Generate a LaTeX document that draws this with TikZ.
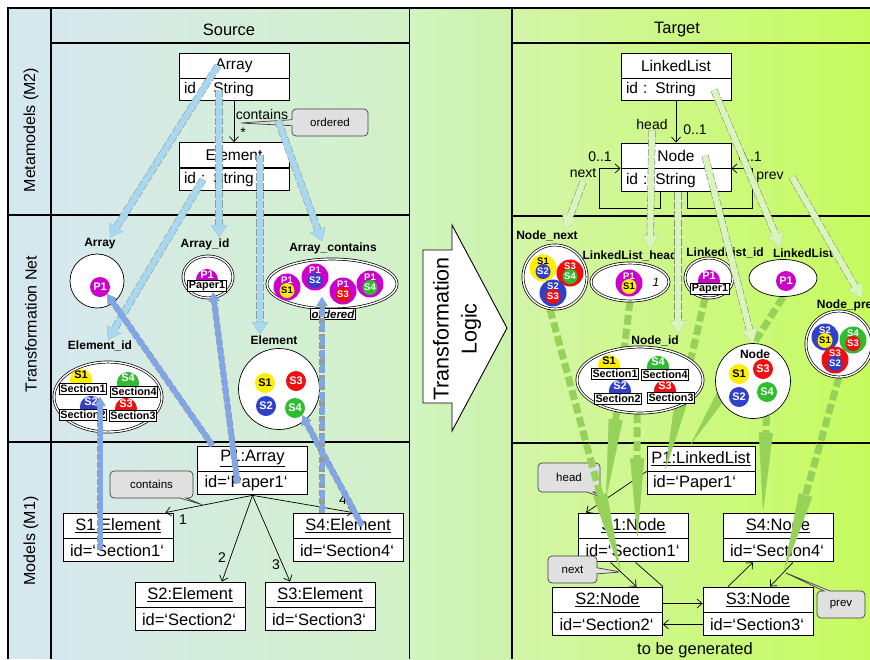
\documentclass[tikz,border=0pt]{standalone}
\usepackage{fontspec}
\setmainfont{Liberation Sans}
\usepackage{tikz}
\usetikzlibrary{arrows.meta,positioning,shapes.geometric,shapes.callouts}

\definecolor{tmag}{HTML}{CC00CC}
\definecolor{tyel}{HTML}{FFEE00}
\definecolor{tblu}{HTML}{3040C8}
\definecolor{tred}{HTML}{EE1010}
\definecolor{tgrn}{HTML}{30BB30}
\definecolor{rowcol}{HTML}{D4E8EE}
\definecolor{srcL}{HTML}{D6E8EF}
\definecolor{srcR}{HTML}{D2F2C6}
\definecolor{midL}{HTML}{D2F4C2}
\definecolor{midR}{HTML}{CCF2A8}
\definecolor{tgtL}{HTML}{D3F5A8}
\definecolor{tgtR}{HTML}{C6FB5E}
\definecolor{lblue}{HTML}{A8D8F0}
\definecolor{dblue}{HTML}{7EA6E8}
\definecolor{lgreen}{HTML}{DAF5BC}
\definecolor{dgreen}{HTML}{96D25A}

% token with a smaller token inside
\newcommand{\nestok}[6]{%
  \node[#3, minimum size=27pt] (#1) at #2 {};
  \node[#3, fill=none, minimum size=0pt, font=\fontsize{9.5}{10}\selectfont\bfseries] at ([yshift=-6.5pt]#1.north) {#4};
  \node[#5, minimum size=15pt, font=\fontsize{9.5}{10}\selectfont\bfseries] at ([yshift=-3.5pt]#1.center) {#6};}

\begin{document}
\begin{tikzpicture}[x=1pt, y=-1pt,
    grid/.style = {line width=1.3pt},
    hdr/.style = {font=\fontsize{16.5}{18}\selectfont},
    rowlbl/.style = {rotate=90, font=\fontsize{16}{18}\selectfont},
    cname/.style = {draw, fill=white, line width=0.9pt, minimum width=110pt, minimum height=25pt, inner sep=0pt, font=\fontsize{15.5}{17}\selectfont},
    cattr/.style = {cname, minimum height=22pt, text width=100pt, align=left},
    oname/.style = {cname, font=\fontsize{16.5}{18}\selectfont},
    oattr/.style = {oname, minimum height=23pt, text width=96pt, align=left},
    plabel/.style = {font=\fontsize{12}{13}\selectfont\bfseries, inner sep=1pt},
    place/.style = {draw, circle, fill=white, line width=0.7pt, inner sep=0pt},
    dplace/.style = {place, double, double distance=1.4pt},
    secbox/.style = {draw, fill=white, line width=0.9pt, inner sep=1.1pt, font=\fontsize{10.8}{12}\selectfont\bfseries},
    tok/.style = {circle, inner sep=0pt, minimum size=20pt, font=\fontsize{11}{12}\selectfont\bfseries, text=white},
    p1/.style = {tok, fill=tmag},
    s1/.style = {tok, fill=tyel, text=black},
    s2/.style = {tok, fill=tblu},
    s3/.style = {tok, fill=tred},
    s4/.style = {tok, fill=tgrn},
    lbl/.style = {font=\fontsize{14}{15}\selectfont, inner sep=1pt},
    note/.style = {rectangle callout, rounded corners=4pt, draw=black!75, fill=black!12, line width=0.7pt, callout pointer width=6pt, font=\fontsize{11.5}{12}\selectfont},
    link/.style = {line width=0.7pt, -{Straight Barb[length=5pt,width=9pt]}},
    lbarrow/.style = {line width=6pt, draw=lblue, preaction={draw=black!40, line width=7.2pt, dotted}, -{Triangle[length=12pt,width=16pt,line width=0.4pt]}},
    dbarrow/.style = {line width=5pt, draw=dblue, preaction={draw=black!40, line width=6.2pt, dotted}, -{Triangle[length=9pt,width=11pt,line width=0.4pt]}},
    lgarrow/.style = {line width=6pt, draw=lgreen, preaction={draw=black!45, line width=7.2pt, dotted}, -{Triangle[length=14pt,width=16pt,line width=0.4pt]}},
    gen/.style = {line width=7pt, draw=dgreen, dash pattern=on 10pt off 4pt, -{Triangle[length=80pt,width=14pt,line width=0.4pt]}}
    ]
\useasboundingbox (0,0) rectangle (870,659);

% background and table
\fill[white] (0,0) rectangle (870,659);
\fill[rowcol] (8,8) rectangle (51,659);
\shade[left color=srcL, right color=srcR] (51,8) rectangle (409.5,659);
\shade[left color=midL, right color=midR] (409.5,8) rectangle (512,659);
\shade[left color=tgtL, right color=tgtR] (512,8) rectangle (870,659);
\draw[grid] (870,8) -- (8,8) -- (8,659);
\draw[grid] (51,8) -- (51,659) (409.5,8) -- (409.5,659) (512,8) -- (512,659);
\draw[grid] (51,43) -- (409.5,43) (512,43) -- (870,43);
\draw[grid] (8,215) -- (409.5,215) (512,216) -- (870,216);
\draw[grid] (8,442) -- (409.5,442) (512,443) -- (870,443);

\node[hdr] (src) at (229,30) {Source};
\node[hdr] (tgt) at (677,30) {Target};
\node[rowlbl] (rM2) at (31,130) {Metamodels (M2)};
\node[rowlbl] (rNet) at (31,324) {Transformation Net};
\node[rowlbl] (rM1) at (31,541) {Models (M1)};

\draw[fill=white, line width=0.9pt] (423,250) -- (452,250) -- (452,225) -- (507,328) -- (452,431) -- (452,403) -- (423,403) -- cycle;
\node[rotate=90, align=center, font=\fontsize{21.5}{28}\selectfont] (logic) at (457,329) {Transformation\\Logic};

% source metamodel
\node[cname] (arr) at (234,65.5) {Array};
\node[cattr, below=0pt of arr] (arrid) {id : String};
\node[cname] (elem) at (234,155) {Element};
\node[cattr, below=0pt of elem] (elemid) {id : String};
\draw[link] (arrid.south) -- (elem.north);
\node[lbl] (cnt) at (262,114) {contains};
\node[lbl] (star) at (243,133) {*};
\coordinate (ordp) at (240,123);
\node[note, minimum width=76pt, minimum height=27pt, callout absolute pointer={(ordp)}] (ord) at (330,122.5) {ordered};

% target metamodel
\node[cname] (ll) at (676,65.5) {LinkedList};
\node[cattr, below=0pt of ll] (llid) {id : String};
\node[cname] (nd) at (676,155.5) {Node};
\node[cattr, below=0pt of nd, minimum height=23pt] (ndid) {id : String};
\draw[link] (llid.south) -- (nd.north);
\node[lbl] (headL) at (652,124) {head};
\node[lbl] (hmul) at (695,130) {0..1};
\coordinate (nxl) at (599,208);
\coordinate (pvl) at (752,208);
\draw[link] ([xshift=-16pt]ndid.south) |- (nxl) |- (ndid.north west);
\draw[link] ([xshift=11pt]ndid.south) |- (pvl) |- (ndid.north east);
\node[lbl] (nmul) at (600,157) {0..1};
\node[lbl] (nextL) at (583,173) {next};
\node[lbl] (pmul) at (750,157) {0..1};
\node[lbl] (prevL) at (770,177) {prev};

% source model
\node[oname] (p1) at (252.5,458.5) {\underline{P1:Array}};
\node[oattr, below=0pt of p1] (p1id) {id=‘Paper1‘};
\node[oname] (s1e) at (118,525.5) {\underline{S1:Element}};
\node[oattr, below=0pt of s1e] (s1eid) {id=‘Section1‘};
\node[oname] (s4e) at (348,525.5) {\underline{S4:Element}};
\node[oattr, below=0pt of s4e] (s4eid) {id=‘Section4‘};
\node[oname] (s2e) at (190,594.5) {\underline{S2:Element}};
\node[oattr, below=0pt of s2e] (s2eid) {id=‘Section2‘};
\node[oname] (s3e) at (320,594.5) {\underline{S3:Element}};
\node[oattr, below=0pt of s3e] (s3eid) {id=‘Section3‘};
\draw[link] (p1id.south) -- ([xshift=-8pt]s1e.north east);
\draw[link] (p1id.south) -- ([xshift=32pt]s2e.north);
\draw[link] (p1id.south) -- ([xshift=-30pt]s3e.north);
\draw[link] (p1id.south) -- ([xshift=5pt]s4e.north);
\node[lbl] (n1) at (183,520) {1};
\node[lbl] (n2) at (222,558) {2};
\node[lbl] (n3) at (276,565) {3};
\node[lbl] (n4) at (343,500) {4};
\coordinate (cntp) at (203,505);
\node[note, minimum width=83pt, minimum height=27pt, callout absolute pointer={(cntp)}] (cnote) at (151.5,484.5) {contains};

% target model
\node[oname, minimum width=108pt] (pll) at (701,458.5) {\underline{P1:LinkedList}};
\node[oattr, below=0pt of pll, minimum width=108pt] (pllid) {id=‘Paper1‘};
\node[oname] (s1n) at (633.5,525.5) {\underline{S1:Node}};
\node[oattr, below=0pt of s1n] (s1nid) {id=‘Section1‘};
\node[oname] (s4n) at (778,525.5) {\underline{S4:Node}};
\node[oattr, below=0pt of s4n] (s4nid) {id=‘Section4‘};
\node[oname] (s2n) at (607.5,599.5) {\underline{S2:Node}};
\node[oattr, below=0pt of s2n] (s2nid) {id=‘Section2‘};
\node[oname] (s3n) at (758,599.5) {\underline{S3:Node}};
\node[oattr, below=0pt of s3n] (s3nid) {id=‘Section3‘};
\draw[link] (pll.south west) -- ([xshift=8pt]s1n.north west) coordinate[pos=0.67] (hdm);
\draw[link] ([xshift=-23pt]s1nid.south) -- ([xshift=29pt]s2n.north) coordinate[pos=0.4] (nxm);
\draw[line width=0.7pt] ([xshift=2pt]s1nid.south) -- (s2n.north east);
\draw[link] ([yshift=-4pt]s2n.east) -- ([yshift=-4pt]s3n.west);
\draw[link] (s3nid.west) -- (s2nid.east);
\draw[link] ([xshift=-30pt]s3n.north) -- ([xshift=-25pt]s4nid.south);
\draw[link] ([xshift=15pt]s4nid.south) -- ([xshift=12pt]s3n.north) coordinate[pos=0.4] (pvm);
\node[note, minimum width=62pt, minimum height=29pt, callout absolute pointer={(hdm)}] (hnote) at (569,477.5) {head};
\node[note, minimum width=49pt, minimum height=27pt, callout absolute pointer={(nxm)}] (nnote) at (572.5,569.5) {next};
\node[note, minimum width=48pt, minimum height=27pt, callout absolute pointer={(pvm)}] (pnote) at (841,604.5) {prev};
\node[hdr] (tbg) at (695,650) {to be generated};

% generated links (net to target model)
\draw[gen] ([xshift=-5pt]555,309) -- (nxm);
\draw[gen] (630,301) -- (hdm);
\draw[gen] (637,413) -- ([xshift=4pt]s1nid.north);
\draw[gen] (705,298) -- ([xshift=-36pt]pllid.north);
\draw[gen] (783,297) -- ([xshift=-11pt]pll.north);
\draw[gen] (767,402) -- ([xshift=-15pt]s4n.north);
\draw[gen] (839,377) -- (pvm);

% source net
\node[plabel] (plArrL) at (100,244) {Array};
\node[place, minimum size=54pt] (plArr) at (97,281) {};
\node[p1] (aP1) at (100,287) {P1};

\node[plabel] (plArrIdL) at (205,244) {Array\_id};
\node[dplace, ellipse, minimum width=50pt, minimum height=42pt] (plArrId) at (208,277) {};
\node[p1] (aiP1) at (207,280) {\raisebox{10pt}{P1}};
\node[secbox] (pap1) at (207,286) {Paper1};

\node[plabel] (plContL) at (333,248) {Array\_contains};
\node[dplace, ellipse, minimum width=130pt, minimum height=50pt] (plCont) at (332,284) {};
\nestok{ac1}{(287,287)}{p1}{P1}{s1}{S1}
\nestok{ac2}{(315,277)}{p1}{P1}{s2}{S2}
\nestok{ac3}{(343,291)}{p1}{P1}{s3}{S3}
\nestok{ac4}{(370,284)}{p1}{P1}{s4}{S4}
\node[secbox, font=\fontsize{11.5}{12}\selectfont\bfseries\itshape] (ordb) at (333,314) {ordered};

\node[plabel] (plElIdL) at (100,346) {Element\_id};
\node[dplace, ellipse, minimum width=108pt, minimum height=70pt] (plElId) at (108,397) {};
\node[s1] (eiS1) at (81,380) {\raisebox{10pt}{S1}};
\node[secbox] (sec1) at (83,389) {Section1};
\node[s4] (eiS4) at (128,383) {\raisebox{10pt}{S4}};
\node[secbox] (sec4) at (134,392) {Section4};
\node[s2] (eiS2) at (91,407) {\raisebox{10pt}{S2}};
\node[secbox] (sec2) at (83,415) {Section2};
\node[s3] (eiS3) at (126,409) {\raisebox{10pt}{S3}};
\node[secbox] (sec3) at (133,416) {Section3};

\node[plabel] (plElL) at (274,340) {Element};
\node[place, minimum size=81pt] (plEl) at (279,389) {};
\node[s1] (eS1) at (265,383) {S1};
\node[s3] (eS3) at (296,381) {S3};
\node[s2] (eS2) at (266,406) {S2};
\node[s4] (eS4) at (295,408) {S4};

% target net
\node[plabel] (plNextL) at (547,236) {Node\_next};
\node[dplace, minimum size=64pt] (plNext) at (555,277) {};
\nestok{nx1}{(543,268)}{s1}{S1}{s2}{S2}
\nestok{nx2}{(570,273)}{s3}{S3}{s4}{S4}
\nestok{nx3}{(553,293)}{s2}{S2}{s3}{S3}

\node[plabel] (plHeadL) at (630,256) {LinkedList\_head};
\node[dplace, ellipse, minimum width=78pt, minimum height=38pt] (plHead) at (630,282) {};
\nestok{hd1}{(629,283)}{p1}{P1}{s1}{S1}
\node[font=\fontsize{12}{13}\selectfont\itshape] (hdOne) at (656,282) {1};

\node[plabel] (plLLIdL) at (725,253) {LinkedList\_id};
\node[dplace, ellipse, minimum width=48pt, minimum height=40pt] (plLLId) at (709,278) {};
\node[p1] (liP1) at (709,281) {\raisebox{10pt}{P1}};
\node[secbox] (pap2) at (710,289) {Paper1};

\node[plabel] (plLLL) at (803,253) {LinkedList};
\node[place, ellipse, minimum width=68pt, minimum height=37pt] (plLL) at (783,278) {};
\node[p1] (llP1) at (786,281) {P1};

\node[plabel] (plPrevL) at (848,305) {Node\_prev};
\node[dplace, minimum size=66pt] (plPrev) at (839,344) {};
\nestok{pv1}{(825,337)}{s2}{S2}{s1}{S1}
\nestok{pv2}{(853,340)}{s4}{S4}{s3}{S3}
\nestok{pv3}{(835,360)}{s3}{S3}{s2}{S2}

\node[plabel] (plNidL) at (655,341) {Node\_id};
\node[dplace, ellipse, minimum width=126pt, minimum height=66pt] (plNid) at (640,380) {};
\node[s1] (niS1) at (609,366) {\raisebox{10pt}{S1}};
\node[secbox] (nsec1) at (615,374) {Section1};
\node[s4] (niS4) at (658,367) {\raisebox{10pt}{S4}};
\node[secbox] (nsec4) at (665,375) {Section4};
\node[s2] (niS2) at (620,391) {\raisebox{10pt}{S2}};
\node[secbox] (nsec2) at (618,399) {Section2};
\node[s3] (niS3) at (665,391) {\raisebox{10pt}{S3}};
\node[secbox] (nsec3) at (671,398) {Section3};

\node[place, minimum size=75pt] (plNode) at (753,381) {};
\node[plabel] (plNodeL) at (755,354) {Node};
\node[s1] (nS1) at (739,374) {S1};
\node[s3] (nS3) at (763,369) {S3};
\node[s2] (nS2) at (739,397) {S2};
\node[s4] (nS4) at (767,392) {S4};

% metamodel to net
\draw[lbarrow] ([xshift=-16pt]arr.center) -- ([xshift=10pt]plArrL.north);
\draw[lbarrow] ([xshift=-15pt]arrid.center) -- ([xshift=14pt]plArrIdL.north);
\draw[lbarrow] ([xshift=26pt]elem.center) -- ([xshift=-14pt]plElL.north);
\draw[lbarrow] ([xshift=-31pt]elemid.center) -- ([xshift=8pt]plElIdL.north);
\draw[lbarrow] ([xshift=16pt]cnt.south) -- ([xshift=-11pt]plContL.north);

\draw[lgarrow] ([yshift=-9pt]nextL.center) -- ([xshift=18pt]plNextL.north);
\draw[lgarrow] (headL.south) -- ([xshift=20pt]plHeadL.north);
\draw[lgarrow] ([xshift=2pt]ndid.south) -- ([xshift=23pt]plNidL.north);
\draw[lgarrow] ([xshift=29pt]nd.center) -- (plNode.north);
\draw[lgarrow] ([xshift=38pt]llid.center) -- ([xshift=-22pt]plLLL.north);
\draw[lgarrow] ([xshift=22pt]prevL.center) -- ([xshift=14pt]plPrevL.north);

% source model to net
\draw[dbarrow] ([xshift=-18pt]s1eid.center) -- ([xshift=-8pt]plElId.center);
\draw[dbarrow] ([xshift=-40pt]p1.north) -- (aP1.south east);
\draw[dbarrow] ([xshift=-15pt]p1id.center) -- ([xshift=6pt]pap1.south);
\draw[dbarrow] ([xshift=14pt]s4e.center) -- (eS4.south east);
\draw[dbarrow, dash pattern=on 9pt off 5pt] ([xshift=-26pt]s4e.north) -- ([xshift=-21pt,yshift=-6pt]ac3.center);

\end{tikzpicture}
\end{document}
